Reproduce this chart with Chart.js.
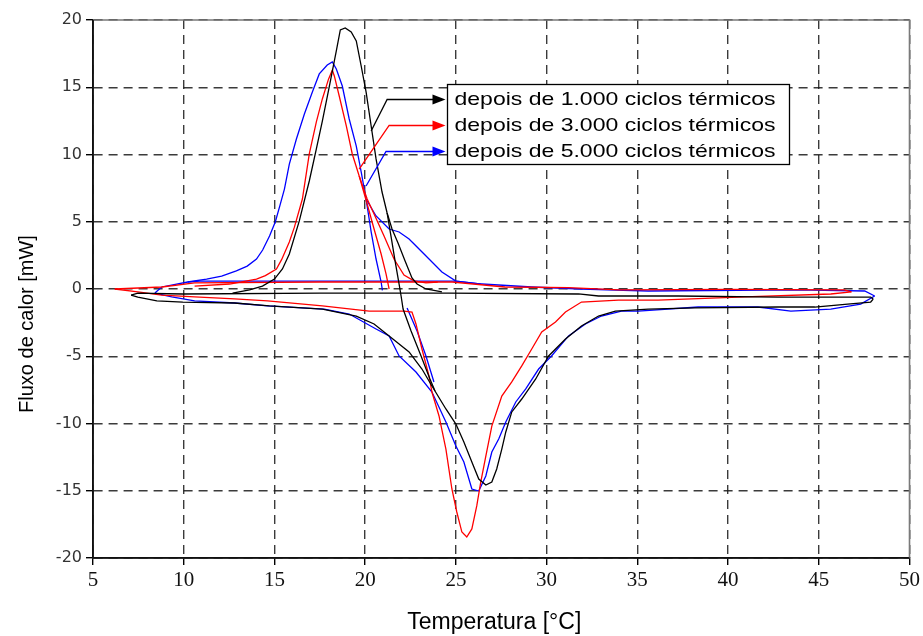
<!DOCTYPE html>
<html><head><meta charset="utf-8">
<script src="https://cdn.jsdelivr.net/npm/chart.js@4/dist/chart.umd.min.js"></script>
<style>html,body{margin:0;padding:0;background:#fff;}canvas{display:block;}</style>
</head><body>
<canvas id="c" width="923" height="636"></canvas>
<script>
// ---------- axis ticks ----------
const xTicks = [5,10,15,20,25,30,35,40,45,50];
const yTicks = [-20,-15,-10,-5,0,5,10,15,20];
const xTitle = 'Temperatura [°C]';
const yTitle = 'Fluxo de calor [mW]';
const seriesLabels = ['depois de 1.000 ciclos térmicos','depois de 3.000 ciclos térmicos','depois de 5.000 ciclos térmicos'];
const seriesColors = ['#000000','#ff0000','#0000ff'];

// ---------- 1.000 ciclos (black) ----------
const blackUpper = [[48.0,-0.75],[47.86,-0.6],[42.75,-0.6],[37.25,-0.52],[32.86,-0.52],[31.76,-0.37],[24.6,-0.3],[17.5,-0.3],[9.95,-0.37],[7.47,-0.3],[7.1,-0.45]];
const blackLower = [[7.1,-0.45],[7.47,-0.6],[8.52,-0.89],[9.95,-0.97],[12.8,-1.04],[14.73,-1.26],[17.64,-1.49],[19.51,-2.01],[20.49,-2.6],[21.32,-3.49],[22.42,-4.68],[23.13,-5.95],[23.68,-7.21],[24.45,-8.92],[25.0,-10.04],[25.44,-11.38],[25.88,-12.86],[26.26,-14.13],[26.65,-14.57],[26.98,-14.35],[27.25,-13.38],[27.53,-11.9],[27.75,-10.63],[28.08,-9.14],[28.63,-8.18],[29.4,-6.69],[30.11,-4.98],[31.04,-3.72],[31.92,-2.75],[32.86,-2.01],[33.79,-1.64],[35.6,-1.49],[38.19,-1.41],[42.75,-1.34],[44.78,-1.34],[46.59,-1.12],[47.86,-0.97],[48.0,-0.75]];
const blackPeak = [[24.23,-0.22],[23.35,0.0],[22.86,0.37],[22.58,0.82],[22.2,2.08],[21.81,3.42],[21.48,4.46],[21.21,5.65],[20.93,7.21],[20.6,9.67],[20.33,12.12],[20.05,14.65],[19.78,16.58],[19.51,18.44],[19.23,19.11],[18.9,19.41],[18.63,19.26],[18.41,17.7],[18.02,15.02],[17.64,12.49],[17.31,10.41],[16.92,8.03],[16.37,5.06],[15.82,2.6],[15.44,1.49],[15.0,0.74],[14.34,0.22],[13.63,-0.07],[12.69,-0.3]];
const blackSteep = [[21.21,5.65],[21.43,3.87],[21.65,2.08],[21.87,0.37],[21.98,-0.52],[22.09,-1.49],[22.53,-3.12],[23.08,-4.98],[23.57,-6.69],[23.85,-7.58]];

// ---------- 3.000 ciclos (red) ----------
const redUpper = [[46.8,-0.22],[46.4,-0.07],[40.0,-0.03],[34.0,-0.07],[31.2,0.1],[27.7,0.15],[24.8,0.52],[17.5,0.52],[10.6,0.45],[8.79,0.15],[6.2,0.0]];
const redLower = [[6.2,0.0],[7.47,-0.22],[8.79,-0.45],[10.6,-0.59],[12.8,-0.74],[14.62,-0.89],[17.64,-1.26],[20.22,-1.64],[22.14,-1.64],[22.58,-1.71],[22.8,-2.6],[23.13,-4.46],[23.52,-6.47],[23.68,-7.66],[24.07,-9.44],[24.45,-11.9],[24.78,-14.87],[25.05,-16.58],[25.33,-18.07],[25.6,-18.44],[25.88,-17.84],[26.15,-16.13],[26.37,-14.35],[26.65,-12.42],[26.98,-10.19],[27.53,-7.96],[28.08,-6.91],[28.63,-5.72],[29.18,-4.46],[29.73,-3.2],[30.49,-2.45],[31.04,-1.71],[31.92,-0.97],[33.96,-0.82],[36.15,-0.82],[40.93,-0.59],[45.66,-0.37],[46.8,-0.22]];
const redPeak = [[24.0,0.52],[23.35,0.45],[22.69,0.6],[22.14,1.04],[21.59,2.23],[21.04,3.94],[20.49,5.58],[20.11,6.69],[19.67,8.4],[19.29,10.04],[18.96,12.12],[18.57,14.35],[18.3,15.84],[18.19,16.28],[17.98,15.6],[17.64,14.13],[17.31,12.42],[16.92,10.04],[16.54,6.69],[16.1,4.6],[15.82,3.49],[15.4,2.2],[15.11,1.49],[14.5,1.0],[14.01,0.74],[12.53,0.37],[10.6,0.22]];
const redSteep = [[19.67,8.4],[20.11,6.32],[20.49,4.46],[20.88,2.6],[21.15,1.12],[21.32,0.0]];

// ---------- 5.000 ciclos (blue) ----------
const blueUpper = [[48.08,-0.52],[47.53,-0.15],[43.85,-0.07],[35.6,-0.15],[31.92,0.0],[29.18,0.15],[26.43,0.37],[25.0,0.59],[17.47,0.59],[10.88,0.59],[10.22,0.52],[8.79,0.15],[8.41,-0.3]];
const blueLower = [[8.41,-0.3],[9.34,-0.59],[10.6,-0.89],[12.8,-1.04],[14.62,-1.26],[17.75,-1.49],[19.12,-1.86],[20.6,-2.97],[21.32,-3.49],[21.87,-4.98],[22.8,-6.17],[23.68,-7.66],[24.45,-9.89],[25.0,-11.67],[25.44,-12.86],[25.88,-14.87],[26.26,-15.02],[26.65,-13.9],[26.98,-12.12],[27.36,-11.15],[27.75,-9.89],[28.3,-8.4],[28.85,-7.43],[29.56,-5.95],[30.27,-4.98],[31.21,-3.49],[32.14,-2.6],[33.02,-2.01],[34.12,-1.64],[35.05,-1.64],[38.35,-1.34],[41.65,-1.34],[43.46,-1.64],[45.66,-1.49],[47.31,-1.12],[48.08,-0.52]];
const bluePeak = [[26.43,0.37],[25.0,0.59],[24.23,1.26],[23.52,2.23],[22.97,2.97],[22.42,3.72],[21.87,4.24],[21.32,4.46],[20.6,5.43],[20.05,6.69],[19.78,8.7],[19.51,10.63],[19.12,12.64],[18.74,15.09],[18.41,16.36],[18.19,16.88],[17.91,16.65],[17.47,15.99],[17.09,14.65],[16.65,13.01],[16.21,11.15],[15.82,9.29],[15.55,7.43],[15.3,6.2],[15.05,5.0],[14.73,3.94],[14.35,2.9],[14.01,2.23],[13.5,1.7],[12.9,1.35],[12.09,0.95],[11.26,0.74],[10.22,0.52]];
const blueSteep = [[20.05,6.69],[20.33,4.24],[20.6,2.23],[20.88,0.52],[20.95,-0.1]];
const blueDrop = [[22.31,-1.41],[22.86,-3.12],[23.35,-4.98],[23.79,-6.91]];

// ---------- legend leader anchors (data units) ----------
const leaderStartX = [20.33, 19.67, 20.05];
const leaderStartY = [11.75, 8.92, 7.66];
const leaderKneeX  = [21.21, 21.32, 21.15];
const legendAnchorX = 24.5;   // left edge of legend box
const legendAnchorY = 15.25;  // top edge of legend box

const segments = [
  [blackUpper,0],[blackLower,0],[blackPeak,0],[blackSteep,0],
  [redUpper,1],[redLower,1],[redPeak,1],[redSteep,1],
  [blueUpper,2],[blueLower,2],[bluePeak,2],[blueSteep,2],[blueDrop,2]
];
const datasets = segments.map(([pts,ci]) => ({
  data: pts.map(p => ({x:p[0], y:p[1]})),
  borderColor: seriesColors[ci], borderWidth: 1.3,
  pointRadius: 0, showLine: true, fill: false, tension: 0
}));

const overlay = {
  id: 'overlay',
  afterDatasetsDraw(chart) {
    const {ctx, chartArea: a, scales: {x, y}} = chart;
    ctx.save();
    // frame
    ctx.setLineDash([]);
    ctx.lineWidth = 1.6; ctx.strokeStyle = '#7a7a7a';
    ctx.beginPath(); ctx.moveTo(a.left, a.top); ctx.lineTo(a.right, a.top); ctx.lineTo(a.right, a.bottom); ctx.stroke();
    ctx.strokeStyle = '#111';
    ctx.beginPath(); ctx.moveTo(a.left, a.top); ctx.lineTo(a.left, a.bottom); ctx.lineTo(a.right, a.bottom); ctx.stroke();

    // legend box
    const bx = Math.round(x.getPixelForValue(legendAnchorX)) + 0.5;
    const by = Math.round(y.getPixelForValue(legendAnchorY)) + 0.5;
    const bw = 342, bh = 80, rowGap = 26, rowTop = 15;
    ctx.fillStyle = '#fff';
    ctx.fillRect(bx, by, bw, bh);
    ctx.lineWidth = 1.3; ctx.strokeStyle = '#000';
    ctx.strokeRect(bx, by, bw, bh);
    ctx.font = '19px "Liberation Sans", Arial, sans-serif';
    ctx.textBaseline = 'middle';
    ctx.fillStyle = '#000';
    const tw = Math.max(...seriesLabels.map(l => ctx.measureText(l).width));
    const sx = 321 / tw;
    seriesLabels.forEach((lab, i) => {
      const ry = by + rowTop + i * rowGap;
      ctx.save();
      ctx.translate(bx + 7, ry);
      ctx.scale(sx, 1);
      ctx.fillText(lab, 0, 0);
      ctx.restore();
      // leader line with arrow
      const c = seriesColors[i];
      const sxp = x.getPixelForValue(leaderStartX[i]), syp = y.getPixelForValue(leaderStartY[i]);
      const kx = x.getPixelForValue(leaderKneeX[i]);
      const tip = bx - 2;
      ctx.strokeStyle = c; ctx.fillStyle = c; ctx.lineWidth = 1.3;
      ctx.beginPath(); ctx.moveTo(sxp, syp); ctx.lineTo(kx, ry); ctx.lineTo(tip - 10, ry); ctx.stroke();
      ctx.beginPath(); ctx.moveTo(tip - 13, ry - 5); ctx.lineTo(tip, ry); ctx.lineTo(tip - 13, ry + 5); ctx.closePath(); ctx.fill();
      ctx.fillStyle = '#000';
    });

    // axis titles
    ctx.fillStyle = '#000';
    ctx.textAlign = 'center'; ctx.textBaseline = 'middle';
    ctx.font = '23px "Liberation Sans", Arial, sans-serif';
    ctx.fillText(xTitle, (a.left + a.right) / 2 - 7, a.bottom + 65);
    ctx.save();
    ctx.translate(a.left - 66, (a.top + a.bottom) / 2 + 35);
    ctx.rotate(-Math.PI / 2);
    ctx.font = '20px "Liberation Sans", Arial, sans-serif';
    ctx.fillText(yTitle, 0, 0);
    ctx.restore();
    ctx.restore();
  }
};

const gridCommon = {
  color: 'rgba(25,25,25,0.85)', lineWidth: 1.4,
  tickLength: 7, tickColor: '#000', tickWidth: 1.4, tickBorderDash: []
};

new Chart(document.getElementById('c'), {
  type: 'scatter',
  data: { datasets },
  options: {
    responsive: false, animation: false, devicePixelRatio: 1,
    layout: { padding: { left: 0, right: 11, top: 20, bottom: 0 } },
    plugins: { legend: { display: false }, tooltip: { enabled: false } },
    scales: {
      x: {
        type: 'linear', min: xTicks[0], max: xTicks[xTicks.length - 1],
        afterBuildTicks: s => { s.ticks = xTicks.map(v => ({value: v})); },
        afterFit: s => { s.height = 78; },
        ticks: { font: { family: '"Liberation Serif", "Times New Roman", serif', size: 21 }, color: '#111', padding: 3, maxRotation: 0, autoSkip: false },
        grid: gridCommon,
        border: { display: true, color: '#111', width: 1.6, dash: [9, 6] }
      },
      y: {
        type: 'linear', min: yTicks[0], max: yTicks[yTicks.length - 1],
        afterBuildTicks: s => { s.ticks = yTicks.map(v => ({value: v})); },
        afterFit: s => { s.width = 93; },
        ticks: { font: { family: '"DejaVu Sans", Verdana, sans-serif', size: 16 }, color: '#333', padding: 4, autoSkip: false },
        grid: gridCommon,
        border: { display: true, color: '#111', width: 1.6, dash: [9, 6] }
      }
    }
  },
  plugins: [overlay]
});
</script>
</body></html>
